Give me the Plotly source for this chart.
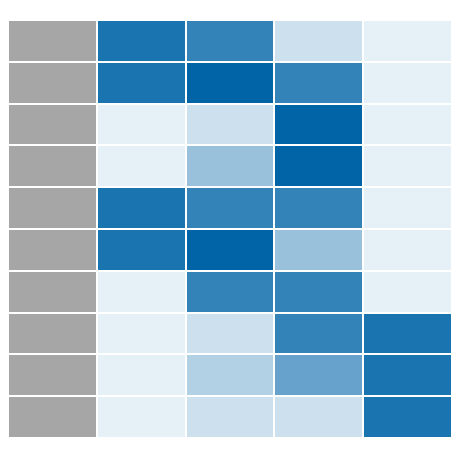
import plotly.graph_objects as go

rows = ["r1", "r2", "r3", "r4", "r5", "r6", "r7", "r8", "r9", "r10"]
cols = ["c0", "c1", "c2", "c3", "c4"]
# 0 = gray (no data column); 0.1..1.0 = blue intensity
values = [
    [0, 0.9, 0.8, 0.2, 0.1],
    [0, 0.9, 1.0, 0.8, 0.1],
    [0, 0.1, 0.2, 1.0, 0.1],
    [0, 0.1, 0.4, 1.0, 0.1],
    [0, 0.9, 0.8, 0.8, 0.1],
    [0, 0.9, 1.0, 0.4, 0.1],
    [0, 0.1, 0.8, 0.8, 0.1],
    [0, 0.1, 0.2, 0.8, 0.9],
    [0, 0.1, 0.3, 0.6, 0.9],
    [0, 0.1, 0.2, 0.2, 0.9],
]

colorscale = [
    [0.0, "#a6a6a6"],
    [0.09, "#a6a6a6"],
    [0.1, "#e6f0f7"],
    [1.0, "#0064a7"],
]

fig = go.Figure(
    go.Heatmap(
        z=values,
        x=cols,
        y=rows,
        zmin=0,
        zmax=1,
        colorscale=colorscale,
        showscale=False,
        xgap=2,
        ygap=2,
        hoverinfo="skip",
    )
)
fig.update_layout(
    width=460,
    height=460,
    margin=dict(l=0, r=16, t=12, b=30),
    paper_bgcolor="white",
    plot_bgcolor="white",
    xaxis=dict(visible=False),
    yaxis=dict(visible=False, autorange="reversed"),
)
fig.write_html("out.html")
